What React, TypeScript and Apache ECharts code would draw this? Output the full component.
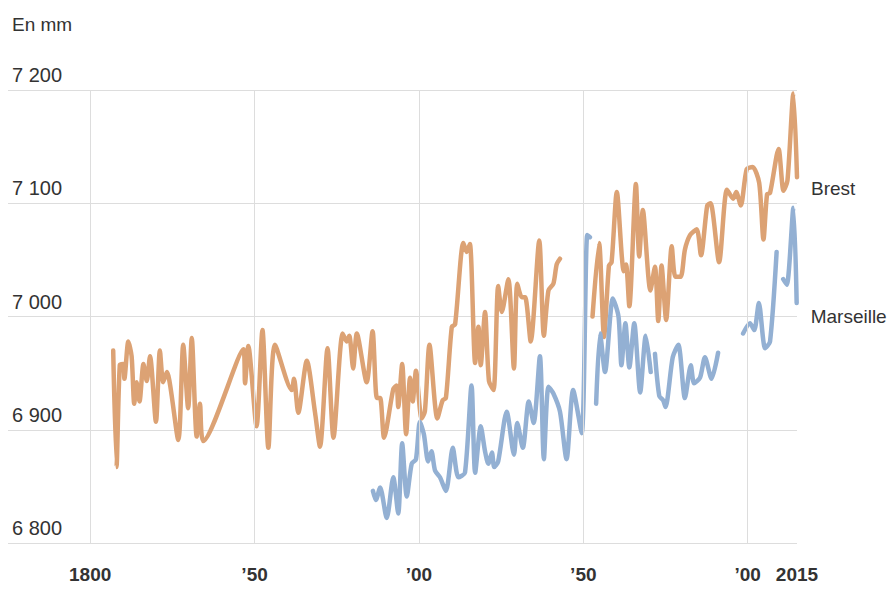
import React, { useEffect, useRef } from "react";
import * as echarts from "echarts";

const brestYears = [
  1807, 1808, 1809, 1810, 1810.4, 1811.6, 1812.6, 1813.4, 1814.1, 1815, 1816.2, 1817.2, 1818.2, 1820,
  1821.2, 1822.2, 1823.3, 1826.8, 1828.3, 1829.8, 1830.9, 1832.4, 1833.4, 1834.4, 1846.6, 1847.1,
  1848.1, 1850.6, 1852.4, 1854.2, 1856.2, 1861.3, 1862, 1863.3, 1865.9, 1868.4, 1869.9, 1872.2, 1874,
  1876.8, 1878, 1878.8, 1880, 1881.1, 1884.1, 1885.9, 1887.2, 1888.2, 1889.4, 1892.2, 1893.2, 1893.7,
  1894.9, 1896.1, 1897.3, 1898.1, 1899.1, 1900.8, 1901.8, 1903.2, 1905.6, 1907.2, 1908.2, 1910, 1911,
  1913.5, 1914.5, 1915.5, 1917.1, 1918.1, 1918.8, 1920.1, 1921.3, 1922.7, 1924.1, 1925.2, 1927.2,
  1928.9, 1929.9, 1931.3, 1932.3, 1934, 1936.6, 1938, 1939.4, 1940.9, 1941.9, 1942.9, 1947, 1952.8,
  1954.8, 1956.3, 1957.8, 1958.6, 1960.2, 1962.3, 1963, 1964, 1966, 1967, 1968.1, 1970.4, 1971.8,
  1972.8, 1973.8, 1975.2, 1976.9, 1978, 1979.6, 1980.9, 1982.5, 1984.5, 1985.8, 1987.7, 1988.7,
  1991.3, 1993.7, 1995.6, 1996.5, 1997.9, 1999.7, 2001.5, 2003.5, 2004.8, 2005.9, 2006.8, 2009.4,
  2010.9, 2012.1, 2013.9, 2015,
];
const brestValues: (number | null)[] = [
  6970, 6867, 6957, 6958, 6945, 6978, 6965, 6923, 6942, 6925, 6958, 6943, 6965, 6907,
  6970, 6942, 6951, 6891, 6975, 6919, 6981, 6894, 6923, 6890, 6971, 6941,
  6974, 6903, 6988, 6884, 6975, 6935, 6945, 6915, 6961, 6915, 6885, 6972, 6893,
  6985, 6978, 6983, 6954, 6985, 6942, 6987, 6928, 6928, 6893, 6936, 6939, 6920,
  6958, 6896, 6946, 6925, 6952, 6910, 6916, 6975, 6910, 6926, 6928, 6991, 6993,
  7065, 7057, 7064, 6959, 6991, 6957, 7004, 6943, 6935, 7027, 7004, 7033,
  6954, 7029, 7017, 7017, 6978, 7067, 6983, 7023, 7029, 7046, 7051, null, 7000,
  7065, 6982, 7045, 7048, 7110, 7040, 7046, 7009, 7117, 7053, 7094, 7023, 7044,
  6996, 7045, 6997, 7062, 7035, 7035, 7059, 7072, 7077, 7054, 7098, 7100,
  7048, 7112, 7104, 7110, 7098, 7130, 7132, 7118, 7068, 7108, 7109, 7148,
  7111, 7120, 7197, 7123,
];

const marseilleYears = [
  1886, 1886.9, 1888.2, 1890.2, 1892.2, 1893.7, 1894.9, 1896.3, 1897.8, 1899.1, 1900.3, 1901.5,
  1902.8, 1903.8, 1904.9, 1906.4, 1908.2, 1910.3, 1912, 1914, 1916, 1917.1, 1918.8, 1920.1, 1921.1,
  1922.2, 1922.9, 1924.1, 1926.7, 1928.9, 1929.9, 1931.6, 1933.4, 1934.9, 1936.8, 1938, 1939.4,
  1940.9, 1942.9, 1944.9, 1946.9, 1949.5, 1951.2, 1952, 1953, 1953.9, 1955.1, 1956.6, 1959, 1960.7,
  1961.6, 1962.8, 1964, 1965.5, 1967.3, 1969, 1970.5, 1971.2, 1971.8, 1973.1, 1974.3, 1975, 1977.2,
  1978.9, 1980.9, 1982.7, 1983.7, 1985.5, 1987, 1989, 1991, 1995, 1998.6, 2000.7, 2002, 2003.4,
  2005.3, 2006.8, 2008.8, 2009.8, 2010.8, 2011.9, 2013.9, 2014.9,
];
const marseilleValues: (number | null)[] = [
  6846, 6838, 6849, 6822, 6858, 6826, 6888, 6841, 6870, 6874, 6907, 6896,
  6872, 6881, 6864, 6858, 6846, 6884, 6858, 6862, 6939, 6862, 6903, 6881, 6870,
  6880, 6867, 6872, 6916, 6878, 6906, 6884, 6925, 6906, 6965, 6874, 6938,
  6932, 6916, 6874, 6935, 6897, 7072, 7070, null, 6923, 6985, 6951, 7016, 7000,
  6957, 6994, 6955, 6994, 6933, 6983, 6951, null, 6967, 6930, 6926, 6920, 6964,
  6975, 6928, 6957, 6941, 6946, 6964, 6945, 6968, null, 6985, 6994, 6988, 7012,
  6972, 6978, 7057, null, 7033, 7028, 7096, 7012,
];

const xTicks = [1800, 1850, 1900, 1950, 2000, 2015];
const xTickLabels = ["1800", "’50", "’00", "’50", "’00", "2015"];
const gridYears = [1800, 1850, 1900, 1950, 2000];

const FONT = "'Liberation Sans', Arial, sans-serif";

export default function App() {
  const ref = useRef<HTMLDivElement>(null);
  useEffect(() => {
    if (!ref.current) return;
    const chart = echarts.init(ref.current, undefined, { renderer: "svg" });
    const brest = brestYears.map((y, i) => [y, brestValues[i] === null ? "-" : brestValues[i]]);
    const marseille = marseilleYears.map((y, i) => [y, marseilleValues[i] === null ? "-" : marseilleValues[i]]);
    chart.setOption({
      animation: false,
      textStyle: { fontFamily: FONT },
      title: {
        text: "En mm",
        left: 4,
        top: 7,
        padding: 0,
        textStyle: { fontSize: 19, fontWeight: "normal", color: "#333", fontFamily: FONT },
      },
      grid: { left: 0, right: 91, top: 82, bottom: 34, containLabel: false },
      xAxis: {
        type: "value",
        min: 1775,
        max: 2015,
        axisLine: { show: false },
        axisTick: { show: false },
        splitLine: { show: false },
        axisLabel: {
          customValues: xTicks,
          formatter: (v: number) => xTickLabels[xTicks.indexOf(v)] ?? "",
          margin: 22,
          fontSize: 19,
          fontWeight: "bold",
          color: "#333",
          fontFamily: FONT,
        },
      },
      yAxis: {
        type: "value",
        min: 6800,
        max: 7200,
        interval: 100,
        axisLine: { show: false },
        axisTick: { show: false },
        splitLine: { lineStyle: { color: "#dddddd", width: 1 } },
        axisLabel: {
          inside: true,
          margin: 4,
          align: "left",
          verticalAlign: "bottom",
          padding: [0, 0, 5, 0],
          fontSize: 20,
          color: "#333",
          fontFamily: FONT,
          formatter: (v: number) => String(v).replace(/\B(?=(\d{3})+(?!\d))/g, " "),
        },
      },
      series: [
        {
          type: "line",
          name: "grid",
          data: [],
          z: 0,
          silent: true,
          markLine: {
            silent: true,
            symbol: ["none", "none"],
            label: { show: false },
            lineStyle: { color: "#dddddd", width: 1, type: "solid" },
            data: gridYears.map((y) => ({ xAxis: y })),
          },
        },
        {
          type: "line",
          name: "Brest",
          data: brest,
          showSymbol: false,
          smooth: 0.25,
          connectNulls: false,
          z: 3,
          lineStyle: { color: "#dca274", width: 4.5, cap: "round", join: "round" },
          itemStyle: { color: "#dca274" },
          endLabel: {
            show: true,
            formatter: "Brest",
            fontSize: 19,
            color: "#333",
            fontFamily: FONT,
            distance: 14,
            offset: [0, 11],
          },
        },
        {
          type: "line",
          name: "Marseille",
          data: marseille,
          showSymbol: false,
          smooth: 0.25,
          connectNulls: false,
          z: 3,
          lineStyle: { color: "#93b0d3", width: 4.5, cap: "round", join: "round" },
          itemStyle: { color: "#93b0d3" },
          endLabel: {
            show: true,
            formatter: "Marseille",
            fontSize: 19,
            color: "#333",
            fontFamily: FONT,
            distance: 14,
            offset: [0, 14],
          },
        },
      ],
    });
    return () => chart.dispose();
  }, []);
  return <div ref={ref} style={{ width: 880, height: 576 }} />;
}
